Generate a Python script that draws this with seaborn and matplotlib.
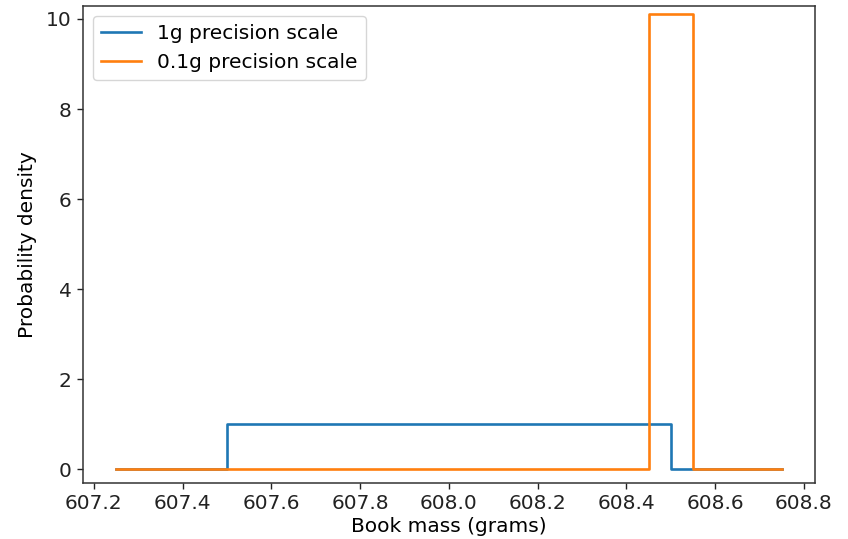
import matplotlib
matplotlib.use("Agg")
import matplotlib.pyplot as plt
import pandas as pd
import seaborn as sns

# Breakpoints of the two uniform densities (grams, density)
coarse_x = [607.25, 607.5, 607.5, 608.5, 608.5, 608.75]
coarse_y = [0.0, 0.0, 1.0, 1.0, 0.0, 0.0]
fine_x = [607.25, 608.45, 608.45, 608.55, 608.55, 608.75]
fine_y = [0.0, 0.0, 10.1, 10.1, 0.0, 0.0]
labels = ["1g precision scale", "0.1g precision scale"]

df = pd.concat([
    pd.DataFrame({"mass": coarse_x, "density": coarse_y, "scale": labels[0]}),
    pd.DataFrame({"mass": fine_x, "density": fine_y, "scale": labels[1]}),
], ignore_index=True)

FS = 14.5
plt.rcParams["font.family"] = ["DejaVu Sans"]
plt.rcParams["font.size"] = FS

fig, ax = plt.subplots(figsize=(8.48, 5.39), dpi=100)
fig.subplots_adjust(left=0.0975, right=0.961, top=0.989, bottom=0.1045)

sns.lineplot(data=df, x="mass", y="density", hue="scale", hue_order=labels,
             palette=["#1f77b4", "#ff7f0e"], estimator=None, sort=False,
             linewidth=1.9, ax=ax)

ax.set_xlim(607.175, 608.825)
ax.set_ylim(-0.3, 10.29)
ax.set_xticks([607.2, 607.4, 607.6, 607.8, 608.0, 608.2, 608.4, 608.6, 608.8])
ax.set_xticklabels([f"{v:.1f}" for v in ax.get_xticks()])
ax.set_yticks([0, 2, 4, 6, 8, 10])
ax.set_xlabel("Book mass (grams)", fontsize=FS, labelpad=3)
ax.set_ylabel("Probability density", fontsize=FS, labelpad=6)
ax.tick_params(labelsize=FS, length=4.5, width=1, colors="#222222")
for s in ax.spines.values():
    s.set_linewidth(1.1)
    s.set_color("#333333")

ax.legend(loc="upper left", fontsize=FS, title=None, frameon=True)

fig.savefig("out.png", dpi=100)
